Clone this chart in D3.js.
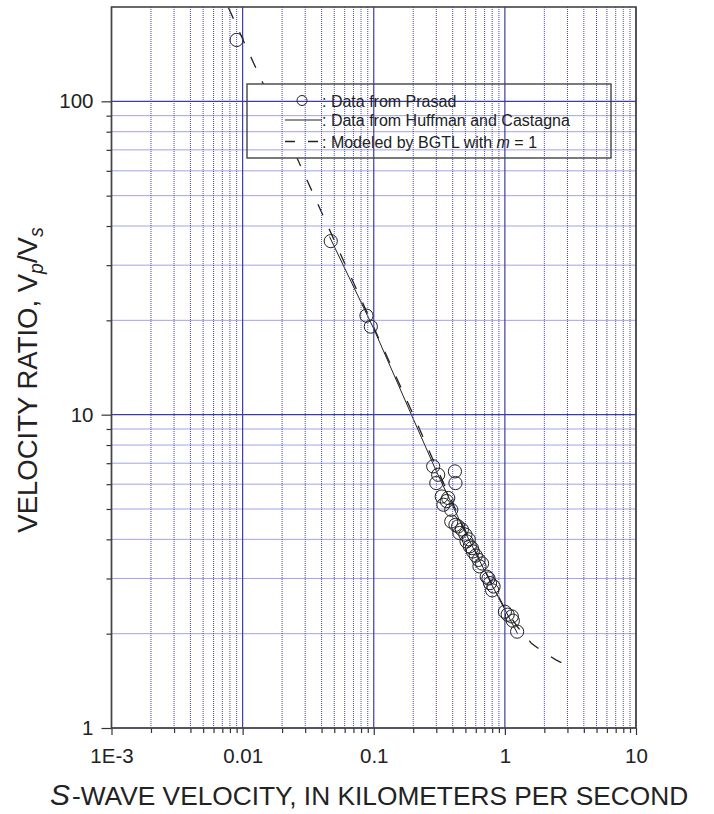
<!DOCTYPE html>
<html>
<head>
<meta charset="utf-8">
<script src="https://cdn.jsdelivr.net/npm/d3@7"></script>
<style>
  body { margin: 0; background: #fff; }
  text { font-family: "Liberation Sans", Arial, sans-serif; fill: #222; }
</style>
</head>
<body>
<svg id="chart" width="714" height="814"></svg>
<script>
// data
let prasadVs = [0.009, 0.047, 0.088, 0.095, 0.284, 0.31, 0.30, 0.416, 0.42, 0.33, 0.37, 0.34,
    0.36, 0.39, 0.39, 0.42, 0.44, 0.45, 0.47, 0.50, 0.51, 0.53, 0.54, 0.56, 0.57, 0.60,
    0.63, 0.64, 0.67, 0.727, 0.75, 0.77, 0.82, 0.80, 1.0, 1.05, 1.13, 1.15, 1.24];
let prasadRatio = [157, 35.8, 20.7, 19.1, 6.84, 6.43, 6.05, 6.59, 6.05, 5.48, 5.42, 5.16,
    5.3, 4.97, 4.56, 4.45, 4.40, 4.19, 4.3, 4.14, 3.94, 4.0, 3.80, 3.75, 3.66, 3.55,
    3.44, 3.28, 3.35, 3.04, 3.0, 2.90, 2.83, 2.75, 2.35, 2.3, 2.27, 2.2, 2.03];

let hcVs = [0.046, 0.1, 0.2, 0.3, 0.5, 0.8, 1.25];
let hcRatio = [37, 18.8, 9.7, 6.6, 4.2, 2.85, 2.0];

let bgtlVs = [0.0078, 0.01, 0.02, 0.05, 0.1, 0.2, 0.3, 0.5, 0.7, 1.0, 1.25, 1.6, 2.0, 2.45, 3.0];
let bgtlRatio = [199, 158, 84, 36, 19, 10, 6.8, 4.25, 3.2, 2.4, 2.1, 1.86, 1.74, 1.65, 1.58];

let xMajor = [1e-3, 1e-2, 1e-1, 1, 10];
let xTickLabels = ['1E-3', '0.01', '0.1', '1', '10'];
let yMajor = [1, 10, 100];
let yTickLabels = ['1', '10', '100'];

let svg = d3.select('#chart');
let pLeft = 111.5, pRight = 636, pTop = 7, pBottom = 728;

let xScale = d3.scaleLog().domain([1e-3, 10]).range([pLeft, pRight]);
let yScale = d3.scaleLog().domain([1, 200]).range([pBottom, pTop]);

function minors(start, end) {
    let out = [];
    for (let d = start; d < end * 0.999; d *= 10)
        for (let k = 2; k <= 9; k++)
            if (d * k < end * 1.001) out.push(d * k);
    return out;
}
let xMinor = minors(1e-3, 10);
let yMinor = minors(1, 200).filter(function (v) { return v < 199; });

// model and published curves
let line = d3.line()
    .x(function (d) { return xScale(d[0]); })
    .y(function (d) { return yScale(d[1]); });

svg.append('path')
    .datum(hcVs.map(function (v, i) { return [v, hcRatio[i]]; }))
    .attr('d', line)
    .attr('fill', 'none')
    .attr('stroke', '#222')
    .attr('stroke-width', 1);

svg.append('path')
    .datum(bgtlVs.map(function (v, i) { return [v, bgtlRatio[i]]; }))
    .attr('d', line)
    .attr('fill', 'none')
    .attr('stroke', '#222')
    .attr('stroke-width', 1.3)
    .attr('stroke-dasharray', '12,15');

// legend box sits under the grid
let lg = {x: 247, y: 84, w: 364, h: 74};
svg.append('rect')
    .attr('x', lg.x).attr('y', lg.y)
    .attr('width', lg.w).attr('height', lg.h)
    .attr('fill', '#fff');

// grid
let grid = svg.append('g');
grid.selectAll('.vminor').data(xMinor).enter().append('line')
    .attr('x1', function (d) { return xScale(d); }).attr('x2', function (d) { return xScale(d); })
    .attr('y1', pTop).attr('y2', pBottom)
    .attr('stroke', '#4747c8').attr('stroke-width', 1).attr('stroke-dasharray', '1,1');
grid.selectAll('.hminor').data(yMinor).enter().append('line')
    .attr('y1', function (d) { return yScale(d); }).attr('y2', function (d) { return yScale(d); })
    .attr('x1', pLeft).attr('x2', pRight)
    .attr('stroke', '#4747c8').attr('stroke-width', 1).attr('stroke-dasharray', '1,1');
grid.selectAll('.vmajor').data(xMajor).enter().append('line')
    .attr('x1', function (d) { return xScale(d); }).attr('x2', function (d) { return xScale(d); })
    .attr('y1', pTop).attr('y2', pBottom)
    .attr('stroke', '#3c3ca8').attr('stroke-width', 1.2);
grid.selectAll('.hmajor').data(yMajor).enter().append('line')
    .attr('y1', function (d) { return yScale(d); }).attr('y2', function (d) { return yScale(d); })
    .attr('x1', pLeft).attr('x2', pRight)
    .attr('stroke', '#3c3ca8').attr('stroke-width', 1.2);

// Prasad circles
svg.selectAll('.pts')
    .data(prasadVs.map(function (v, i) { return [v, prasadRatio[i]]; }))
    .enter()
    .append('circle')
    .attr('cx', function (d) { return xScale(d[0]); })
    .attr('cy', function (d) { return yScale(d[1]); })
    .attr('r', 6.6)
    .attr('fill', 'none')
    .attr('stroke', '#222')
    .attr('stroke-width', 1);

// axes
function styleAxis(g) {
    g.select('.domain').remove();
    g.selectAll('.tick line').attr('stroke', '#333').attr('stroke-width', 1.2);
    g.selectAll('.tick text').attr('font-size', '20.5px').attr('fill', '#222')
        .attr('font-family', '"Liberation Sans", Arial, sans-serif');
}
svg.append('g').attr('transform', `translate(0,${pBottom})`)
    .call(d3.axisBottom(xScale).tickValues(xMinor).tickSize(5).tickFormat(''))
    .call(styleAxis);
svg.append('g').attr('transform', `translate(0,${pBottom})`)
    .call(d3.axisBottom(xScale).tickValues(xMajor).tickSize(7).tickPadding(13)
        .tickFormat(function (d, i) { return xTickLabels[i]; }))
    .call(styleAxis);
svg.append('g').attr('transform', `translate(${pLeft},0)`)
    .call(d3.axisLeft(yScale).tickValues(yMinor).tickSize(5).tickFormat(''))
    .call(styleAxis);
svg.append('g').attr('transform', `translate(${pLeft},0)`)
    .call(d3.axisLeft(yScale).tickValues(yMajor).tickSize(10).tickPadding(8)
        .tickFormat(function (d, i) { return yTickLabels[i]; }))
    .call(styleAxis);

svg.append('rect')
    .attr('x', pLeft).attr('y', pTop)
    .attr('width', pRight - pLeft).attr('height', pBottom - pTop)
    .attr('fill', 'none').attr('stroke', '#444').attr('stroke-width', 1.6);

// legend contents
svg.append('rect')
    .attr('x', lg.x).attr('y', lg.y)
    .attr('width', lg.w).attr('height', lg.h)
    .attr('fill', 'none').attr('stroke', '#444').attr('stroke-width', 1.4);
let rows = [100.5, 120, 141.5];
svg.append('circle').attr('cx', 302).attr('cy', rows[0]).attr('r', 5)
    .attr('fill', 'none').attr('stroke', '#222');
svg.append('line').attr('x1', 285).attr('x2', 322).attr('y1', rows[1]).attr('y2', rows[1])
    .attr('stroke', '#222');
svg.append('line').attr('x1', 285).attr('x2', 322).attr('y1', rows[2]).attr('y2', rows[2])
    .attr('stroke', '#222').attr('stroke-width', 1.3).attr('stroke-dasharray', '10,13');
let legendText = svg.append('g').attr('font-size', '16px');
legendText.append('text').attr('x', 322).attr('y', rows[0] + 6).text(': Data from Prasad');
legendText.append('text').attr('x', 322).attr('y', rows[1] + 6).text(': Data from Huffman and Castagna');
let t3 = legendText.append('text').attr('x', 322).attr('y', rows[2] + 6);
t3.append('tspan').text(': Modeled by BGTL with ');
t3.append('tspan').attr('font-style', 'italic').text('m');
t3.append('tspan').text(' = 1');

// axis titles
let xt = svg.append('text')
    .attr('x', 50).attr('y', 805)
    .attr('font-size', '26.3px');
xt.append('tspan').attr('font-style', 'italic').attr('font-size', '30px').text('S');
xt.append('tspan').attr('dx', 2).text('-WAVE VELOCITY, IN KILOMETERS PER SECOND');

let yt = svg.append('text')
    .attr('transform', 'translate(37,380) rotate(-90)')
    .attr('text-anchor', 'middle')
    .attr('font-size', '27.5px');
yt.append('tspan').text('VELOCITY RATIO, V');
yt.append('tspan').attr('font-style', 'italic').attr('font-size', '19.5px').attr('dy', 6).text('p');
yt.append('tspan').attr('dy', -6).text('/V');
yt.append('tspan').attr('font-style', 'italic').attr('font-size', '19.5px').attr('dy', 6).text('s');
</script>
</body>
</html>
